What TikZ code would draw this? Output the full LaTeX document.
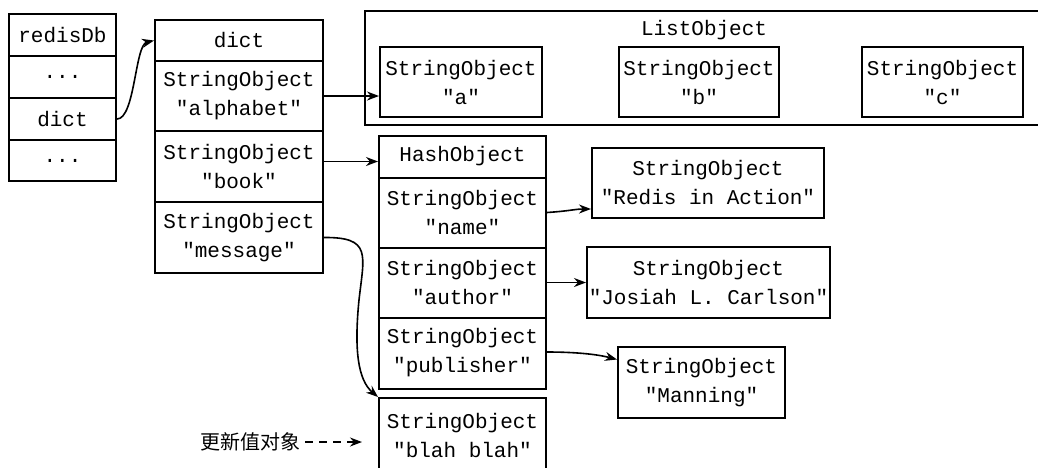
\documentclass[tikz,border=0pt]{standalone}
\usepackage{fontspec}
\newfontfamily\mono{Liberation Mono}
\newfontfamily\cjk{Noto Sans CJK SC}
\usetikzlibrary{arrows.meta}
\begin{document}
\begin{tikzpicture}[x=0.5pt,y=-0.5pt,
  cell/.style={draw, line width=1pt, font=\mono\fontsize{10.5pt}{14.5pt}\selectfont, align=center, inner sep=0pt},
  w/.style={minimum width=#1*0.5pt},
  h/.style={minimum height=#1*0.5pt},
  link/.style={line width=0.8pt, -{Stealth[length=6pt,width=4.5pt]}},
  lbl/.style={font=\mono\fontsize{10.5pt}{14.5pt}\selectfont, inner sep=0pt}
]
\useasboundingbox (0,0) rectangle (1038,467);
\begin{scope}
\clip (0,0) rectangle (1038,467);
% redisDb
\node[cell,w=107,h=42] (r0) at (62.5,35) {redisDb};
\node[cell,w=107,h=42] (r1) at (62.5,77) {...};
\node[cell,w=107,h=42] (r2) at (62.5,119) {dict};
\node[cell,w=107,h=41] (r3) at (62.5,160.5) {...};
% dict
\node[cell,w=168,h=41] (d0) at (239,40.5) {dict};
\node[cell,w=168,h=70] (d1) at (239,96) {StringObject\\"alphabet"};
\node[cell,w=168,h=71] (d2) at (239,166.5) {StringObject\\"book"};
\node[cell,w=168,h=71] (d3) at (239,237.5) {StringObject\\"message"};
% ListObject
\node[cell,w=690,h=114] (lo) at (710,68) {};
\node[lbl] (lol) at (704,30) {ListObject};
\node[cell,w=162,h=70] (la) at (461,82) {StringObject\\"a"};
\node[cell,w=160,h=70] (lb) at (699,82) {StringObject\\"b"};
\node[cell,w=161,h=70] (lc) at (942.5,82) {StringObject\\"c"};
% HashObject
\node[cell,w=167,h=42] (h0) at (462.5,156.5) {HashObject};
\node[cell,w=167,h=70] (h1) at (462.5,212.5) {StringObject\\"name"};
\node[cell,w=167,h=70] (h2) at (462.5,282.5) {StringObject\\"author"};
\node[cell,w=167,h=71] (h3) at (462.5,353) {StringObject\\"publisher"};
\node[cell,w=167,h=74] (bl) at (462.5,435) {StringObject\\"blah blah"};
% values
\node[cell,w=232,h=70] (v1) at (708,183) {StringObject\\"Redis in Action"};
\node[cell,w=243,h=71] (v2) at (708.5,282.5) {StringObject\\"Josiah L. Carlson"};
\node[cell,w=167,h=71] (v3) at (701.5,382.5) {StringObject\\"Manning"};
% label
\node[font=\cjk\fontsize{10pt}{12pt}\selectfont, inner sep=0pt] (nv) at (250,442) {更新值对象};
% connectors
\draw[link] (r2.east) .. controls (135,119) and (135,45) .. (d0.west);
\draw[link] (d1.east) -- (d1.east -| la.west);
\draw[link] ([yshift=2.5pt]d2.east) -- ([yshift=2.5pt]d2.east -| h0.west);
\draw[link] (d3.east) .. controls (372,237) and (364,255) .. (359,300)
   .. controls (354,350) and (358,380) .. (bl.north west);
\draw[link] (h1.east) .. controls (570,211) and (575,209) .. (v1.west |- 0,209);
\draw[link] (h2.east) -- (v2.west);
\draw[link] ([yshift=0.5pt]h3.east) .. controls (580,352) and (600,355) .. ([yshift=11.5pt]v3.west);
\draw[link, dashed, dash pattern=on 4pt off 3pt] (nv.east) ++(5,0) coordinate (nvs) (nvs) -- ([xshift=-8pt]bl.west |- nv.east);
\end{scope}
\end{tikzpicture}
\end{document}
